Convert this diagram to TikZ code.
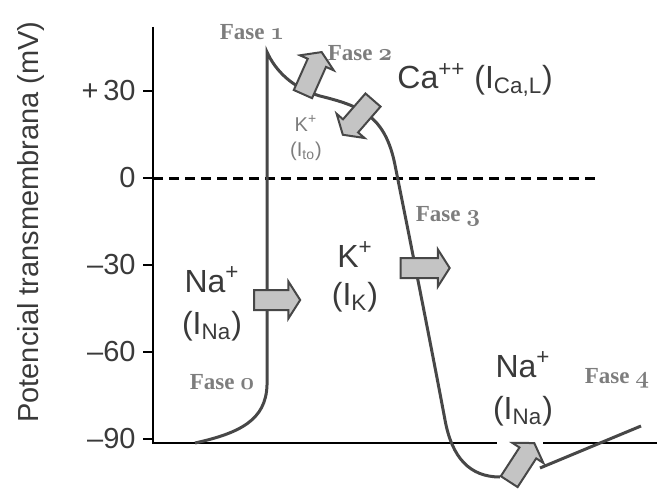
\documentclass[tikz,border=0pt]{standalone}
\usepackage{fontspec}
\setsansfont{Liberation Sans}
\newfontfamily\fasefont{Liberation Serif}
\usepackage{xcolor}
\usetikzlibrary{positioning,shapes.arrows}
\definecolor{curvegray}{HTML}{474747}
\definecolor{phasegray}{HTML}{7D7D7D}
\definecolor{arrowfill}{HTML}{C4C4C4}
\definecolor{labelgray}{HTML}{3A3A3A}
\newcommand{\osn}[1]{{\fontencoding{OML}\fontfamily{cmm}\fontseries{b}\fontshape{it}\selectfont #1}}

\begin{document}
\begin{tikzpicture}[
  x=0.5pt,y=-0.5pt,
  ion/.style={font=\fontsize{16}{21}\selectfont\sffamily,text=labelgray,align=center,inner sep=0pt},
  tick/.style={font=\fontsize{14.5}{16}\selectfont\sffamily,text=labelgray,anchor=east,inner sep=0pt},
  fase/.style={font=\fontsize{11.5}{13}\selectfont\fasefont\bfseries,text=phasegray,inner sep=0pt},
  blk/.style={single arrow,draw=curvegray,fill=arrowfill,line width=1pt,inner xsep=0pt,inner ysep=4.5pt,
    minimum height=23pt,single arrow head extend=4.25pt,single arrow tip angle=115},
  curve/.style={draw=curvegray,line width=1.5pt},
  axisline/.style={draw=black,line width=1.3pt}
]
\useasboundingbox (0,0) rectangle (657,492);

% axes
\coordinate (top) at (153,27);
\coordinate (org) at (153,443);
\draw[axisline] (top) -- (org) -- (497,443);
\draw[axisline] (543,443) -- (657,443);
\foreach \y/\t in {91/{+\,30},178/0,265/\textendash30,352/\textendash60,439/\textendash90}{
  \draw[axisline] (143,\y) -- (153,\y);
  \node[tick] at (136,\y) {\t};
}
\draw[black,line width=1.5pt,dash pattern=on 5pt off 3pt] (153,178) -- (597,178);
\node[font=\fontsize{14.5}{16}\selectfont\sffamily,text=labelgray,rotate=90] (ylab) at (31,222) {Potencial transmembrana (mV)};

% action potential
\draw[curve] (195,443) .. controls (240,433) and (266,420) .. (267,385) -- (267,52)
  .. controls (275,70) and (292,88) .. (320,96)
  .. controls (360,106) and (385,115) .. (395,165)
  .. controls (410,240) and (430,340) .. (445,420)
  .. controls (452,458) and (470,477) .. (500,477);
\draw[curve] (540,468) -- (641,426);

% ion currents
\node[blk] (a0) at (274,300) {};
\node[blk,minimum height=24.5pt] (a3) at (422,268) {};
\node[blk,rotate=66] (a1) at (311,76) {};
\node[blk,rotate=229] (a2) at (360,115) {};
\node[blk,rotate=57] (a4) at (520,465) {};

\node[ion] (na0) at (212,304) {Na\textsuperscript{+}\\(I\textsubscript{Na})};
\node[ion,font=\fontsize{16}{19}\selectfont\sffamily] (kk) at (355,277) {K\textsuperscript{+}\\(I\textsubscript{K})};
\node[ion,font=\fontsize{10}{12.5}\selectfont\sffamily,text=phasegray] (kto) at (306,138) {K\textsuperscript{+}\\(I\textsubscript{to})};
\node[ion,anchor=west] (ca) at (397,80) {Ca\textsuperscript{++} (I\textsubscript{Ca,L})};
\node[ion] (na4) at (523,389) {Na\textsuperscript{+}\\(I\textsubscript{Na})};

% phases
\node[fase] (f0) at (222,382) {Fase \osn{0}};
\node[fase] (f1) at (252,32) {Fase \osn{1}};
\node[fase] (f2) at (360,53) {Fase \osn{2}};
\node[fase] (f3) at (448,216) {Fase \osn{3}};
\node[fase] (f4) at (617,378) {Fase \osn{4}};
\end{tikzpicture}
\end{document}
